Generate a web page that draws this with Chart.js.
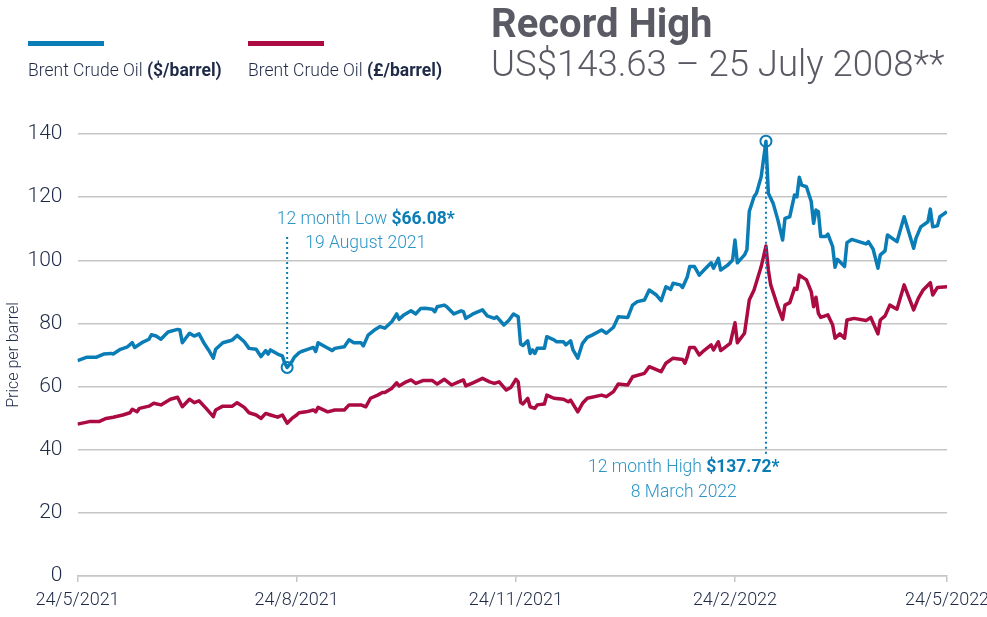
<!DOCTYPE html>
<html>
<head>
<meta charset="utf-8">
<title>Brent Crude Oil</title>
<script src="https://cdn.jsdelivr.net/npm/chart.js@4.4.0/dist/chart.umd.min.js"></script>
<style>
	body { margin: 0; background: #ffffff; }
	#wrap { position: relative; width: 987px; height: 617px; font-family: Roboto, 'Liberation Sans', sans-serif; }
	#oilChart { position: absolute; left: 0; top: 0; }
	.key { position: absolute; top: 41px; width: 76px; height: 5px; }
	.keyText { position: absolute; top: 60px; font-size: 17.5px; line-height: 20px; font-weight: 300; color: #1f2a47; white-space: nowrap; }
	.keyText b { font-weight: 700; }
	#title { position: absolute; left: 491px; top: 2px; font-size: 40px; line-height: 44px; font-weight: 700; color: #5a5a64; white-space: nowrap; }
	#subtitle { position: absolute; left: 491px; top: 43px; font-size: 36.5px; line-height: 42px; font-weight: 300; color: #5a5a64; white-space: nowrap; }
</style>
</head>
<body>
<div id="wrap">
	<canvas id="oilChart" width="987" height="617"></canvas>
	<div class="key" style="left:28px;background:#0a7db6"></div>
	<div class="keyText" style="left:28px">Brent Crude Oil <b>($/barrel)</b></div>
	<div class="key" style="left:248px;background:#ab0a43"></div>
	<div class="keyText" style="left:248px">Brent Crude Oil <b>(£/barrel)</b></div>
	<div id="title">Record High</div>
	<div id="subtitle">US$143.63 – 25 July 2008**</div>
</div>
<script>
// x axis: days since 24/5/2021
var tickDays = [0, 92, 184, 276, 365];
var tickLabels = ['24/5/2021', '24/8/2021', '24/11/2021', '24/2/2022', '24/5/2022'];

// Brent in US dollars
var usdDays = [0, 4, 8, 11, 14, 15, 18, 21, 23, 24, 27, 30, 31, 33, 35, 38, 42, 43, 44, 47,
	49, 51, 53, 55, 57, 58, 61, 64, 65, 67, 70, 72, 75, 77, 79, 80, 81, 84, 86, 87,
	88, 90, 91, 93, 94, 96, 99, 100, 101, 104, 107, 108, 112, 114, 116, 119, 120, 122, 125, 127,
	129, 132, 134, 135, 137, 140, 142, 144, 146, 149, 150, 151, 154, 155, 158, 161, 162, 163, 166, 170,
	172, 175, 176, 179, 181, 183, 185, 186, 187, 189, 190, 191, 192, 193, 196, 197, 200, 201, 204, 205,
	207, 208, 210, 212, 214, 216, 220, 222, 225, 227, 231, 233, 235, 238, 240, 243, 245, 247, 249, 250,
	253, 254, 256, 257, 259, 261, 263, 266, 267, 269, 270, 273, 275, 276, 277, 280, 281, 282, 284, 285,
	287, 289, 290, 292, 294, 296, 297, 299, 301, 302, 303, 304, 306, 308, 309, 310, 311, 312, 314, 315,
	317, 318, 319, 322, 323, 325, 331, 332, 334, 336, 337, 339, 340, 344, 347, 351, 352, 354, 357, 358,
	359, 361, 362, 365];
var usdPrices = [68.2, 69.3, 69.3, 70.3, 70.5, 70.3, 71.8, 72.6, 73.9, 72.4, 73.9, 75.0, 76.4, 76.0, 75.0, 77.3, 78.1, 77.9, 73.9, 76.9,
	76.0, 76.7, 73.9, 71.6, 69.0, 71.8, 73.9, 74.5, 74.8, 76.2, 74.2, 72.1, 71.8, 69.5, 71.4, 70.3, 71.6, 70.3, 69.7, 67.4,
	66.08, 67.9, 69.3, 70.7, 71.1, 71.6, 72.4, 71.1, 73.9, 72.6, 71.4, 72.1, 72.6, 74.8, 73.9, 73.9, 72.9, 76.3, 78.1, 79.0,
	78.5, 80.6, 83.0, 81.3, 82.7, 84.0, 83.0, 84.7, 84.8, 84.5, 83.7, 85.3, 85.8, 85.3, 83.0, 84.0, 83.7, 81.6, 83.0, 84.3,
	82.4, 81.6, 82.1, 79.5, 80.9, 83.0, 82.1, 73.5, 73.0, 74.5, 70.5, 71.6, 70.5, 72.1, 72.1, 75.8, 74.8, 74.2, 74.2, 73.2,
	74.5, 71.6, 69.0, 73.7, 75.6, 76.3, 77.9, 76.9, 78.8, 82.1, 81.9, 85.8, 86.9, 87.4, 90.6, 89.0, 87.2, 91.6, 90.8, 92.7,
	92.2, 91.4, 94.8, 98.0, 98.0, 95.3, 96.9, 99.2, 97.5, 100.6, 96.9, 98.5, 100.1, 106.4, 99.2, 101.7, 103.3, 115.5, 120.1, 121.2,
	126.5, 137.72, 121.2, 118.1, 112.8, 106.4, 113.3, 113.8, 120.7, 120.1, 126.3, 123.8, 123.3, 118.6, 111.7, 115.9, 115.4, 107.5, 107.5, 108.3,
	104.3, 97.8, 100.3, 98.0, 105.6, 106.6, 105.2, 105.9, 103.5, 97.5, 101.7, 103.0, 108.0, 105.9, 113.8, 103.8, 107.0, 110.6, 112.2, 116.2,
	110.6, 110.9, 113.8, 115.4];

// Brent in pounds sterling
var gbpDays = [0, 5, 9, 12, 15, 19, 22, 23, 25, 26, 30, 32, 35, 39, 42, 44, 47, 49, 51, 54,
	57, 58, 61, 65, 67, 70, 72, 75, 77, 79, 81, 84, 86, 88, 90, 92, 93, 96, 99, 100,
	101, 105, 108, 112, 114, 119, 121, 123, 126, 128, 129, 132, 134, 135, 138, 140, 142, 145, 149, 151,
	154, 157, 160, 162, 163, 166, 170, 173, 175, 177, 180, 182, 184, 185, 186, 187, 189, 190, 192, 193,
	196, 197, 200, 204, 206, 207, 210, 212, 214, 220, 222, 225, 227, 231, 233, 238, 240, 245, 247, 250,
	254, 255, 256, 257, 259, 261, 263, 266, 267, 269, 270, 274, 276, 277, 280, 282, 284, 287, 289, 290,
	291, 294, 296, 297, 299, 301, 302, 303, 306, 308, 309, 310, 311, 312, 315, 317, 318, 320, 322, 323,
	326, 331, 333, 336, 337, 339, 341, 344, 347, 351, 353, 355, 358, 359, 361, 365];
var gbpPrices = [48.1, 48.9, 48.9, 49.9, 50.3, 51.0, 51.7, 52.8, 52.0, 53.1, 53.8, 54.7, 54.2, 56.0, 56.6, 53.6, 56.0, 54.9, 55.5, 53.1,
	50.5, 52.6, 53.8, 53.8, 54.9, 53.4, 51.7, 51.0, 49.9, 51.5, 51.0, 50.3, 51.0, 48.4, 49.9, 51.0, 51.7, 52.0, 52.6, 52.0,
	53.4, 52.0, 52.6, 52.6, 54.2, 54.2, 53.6, 56.3, 57.3, 58.1, 58.1, 59.5, 61.2, 60.2, 61.5, 62.1, 61.0, 61.9, 61.9, 60.8,
	62.3, 60.5, 61.5, 62.1, 60.2, 61.2, 62.6, 61.5, 61.0, 61.5, 58.9, 59.8, 62.3, 61.5, 55.0, 54.5, 56.3, 53.6, 53.1, 54.2,
	54.5, 57.3, 56.3, 56.0, 55.2, 55.7, 52.0, 54.7, 56.3, 57.3, 56.8, 58.4, 60.8, 60.5, 63.1, 64.2, 66.3, 64.7, 67.4, 69.0,
	68.6, 67.4, 69.5, 72.4, 72.4, 70.0, 71.4, 73.2, 71.6, 74.2, 71.4, 73.7, 80.2, 73.9, 76.9, 87.4, 90.6, 98.0, 104.5, 97.0,
	92.2, 85.3, 81.3, 85.8, 86.6, 91.1, 90.8, 95.3, 93.8, 90.1, 85.3, 88.3, 83.2, 81.9, 82.7, 79.5, 75.3, 76.7, 75.3, 81.1,
	81.6, 80.9, 81.9, 76.7, 81.1, 82.4, 85.8, 84.5, 92.2, 84.3, 88.0, 90.6, 92.9, 89.0, 91.4, 91.6];

// Colors
var colors = {
	usd: '#0a7db6',
	gbp: '#ab0a43',
	note: '#2b95c8',
	noteBold: '#0a7db6',
	text: '#1f2a47',
	grid: '#c6c6c6'
};
var fontFamily = "Roboto, 'Liberation Sans', sans-serif";

// 12 month low / high call-outs (anchored in data units)
var notes = [
	{ day: 88, value: 66.08, lineFrom: 107.4, lineTo: null, textDay: 121, textValue: 113, dateValue: 105.4,
		label: '12 month Low ', bold: '$66.08*', date: '19 August 2021' },
	{ day: 289, value: 137.72, lineFrom: null, lineTo: 38.3, textDay: 254.5, textValue: 34.4, dateValue: 26.5,
		label: '12 month High ', bold: '$137.72*', date: '8 March 2022' }
];

function toPoints(days, values) {
	return days.map(function(d, i) { return { x: d, y: values[i] }; });
}

function drawMixed(ctx, cx, cy, parts) {
	var total = 0;
	parts.forEach(function(p) {
		ctx.font = p.weight + ' 17.5px ' + fontFamily;
		p.w = ctx.measureText(p.text).width;
		total += p.w;
	});
	var x = cx - total / 2;
	parts.forEach(function(p) {
		ctx.font = p.weight + ' 17.5px ' + fontFamily;
		ctx.fillStyle = p.color;
		ctx.fillText(p.text, x, cy);
		x += p.w;
	});
}

var notesPlugin = {
	id: 'notes',
	afterDatasetsDraw: function(chart) {
		var ctx = chart.ctx;
		var xs = chart.scales.x, ys = chart.scales.y;
		var r = 5.5;

		notes.forEach(function(n) {
			var px = xs.getPixelForValue(n.day);
			var py = ys.getPixelForValue(n.value);
			ctx.save();

			// dotted leader line
			ctx.strokeStyle = colors.usd;
			ctx.lineWidth = 2;
			ctx.setLineDash([2, 3]);
			ctx.beginPath();
			if (n.lineFrom !== null) {
				ctx.moveTo(px, ys.getPixelForValue(n.lineFrom));
				ctx.lineTo(px, py - r);
			} else {
				ctx.moveTo(px, py + r);
				ctx.lineTo(px, ys.getPixelForValue(n.lineTo));
			}
			ctx.stroke();

			// marker ring
			ctx.setLineDash([]);
			ctx.beginPath();
			ctx.arc(px, py, r, 0, Math.PI * 2);
			ctx.stroke();

			// text
			ctx.textAlign = 'left';
			ctx.textBaseline = 'middle';
			var tx = xs.getPixelForValue(n.textDay);
			drawMixed(ctx, tx, ys.getPixelForValue(n.textValue), [
				{ text: n.label, weight: '300', color: colors.note },
				{ text: n.bold, weight: '700', color: colors.noteBold }
			]);
			drawMixed(ctx, tx, ys.getPixelForValue(n.dateValue), [
				{ text: n.date, weight: '300', color: colors.note }
			]);
			ctx.restore();
		});
	}
};

var ctx = document.getElementById('oilChart').getContext('2d');
var oilChart = new Chart(ctx, {
	type: 'line',
	data: {
		datasets: [
			{
				label: 'Brent Crude Oil ($/barrel)',
				data: toPoints(usdDays, usdPrices),
				borderColor: colors.usd,
				borderWidth: 3.5,
				borderJoinStyle: 'round',
				pointRadius: 0,
				tension: 0
			},
			{
				label: 'Brent Crude Oil (£/barrel)',
				data: toPoints(gbpDays, gbpPrices),
				borderColor: colors.gbp,
				borderWidth: 3.5,
				borderJoinStyle: 'round',
				pointRadius: 0,
				tension: 0
			}
		]
	},
	options: {
		responsive: false,
		animation: false,
		layout: { padding: { top: 134, right: 40, bottom: 0, left: 0 } },
		plugins: {
			legend: { display: false },
			tooltip: { enabled: false }
		},
		scales: {
			x: {
				type: 'linear',
				min: 0,
				max: 365,
				afterBuildTicks: function(scale) {
					scale.ticks = tickDays.map(function(v) { return { value: v }; });
				},
				afterFit: function(scale) {
					scale.height = 41;
					scale.paddingLeft = 0;
					scale.paddingRight = 0;
				},
				grid: { drawOnChartArea: false, drawTicks: true, tickLength: 6, color: colors.grid, lineWidth: 1.5 },
				border: { color: colors.grid, width: 1.5 },
				ticks: {
					autoSkip: false,
					maxRotation: 0,
					padding: 8,
					color: colors.text,
					font: { family: fontFamily, size: 18, weight: '300' },
					callback: function(value, index) { return tickLabels[index]; }
				}
			},
			y: {
				min: 0,
				max: 140,
				afterFit: function(scale) { scale.width = 77.5; },
				grid: { color: colors.grid, lineWidth: 1.5, drawTicks: false },
				border: { display: false },
				ticks: {
					stepSize: 20,
					padding: 15,
					color: colors.text,
					font: { family: fontFamily, size: 21, weight: '300' }
				},
				title: {
					display: true,
					text: 'Price per barrel',
					color: colors.text,
					padding: { top: 4, bottom: 0 },
					font: { family: fontFamily, size: 16, weight: '300' }
				}
			}
		}
	},
	plugins: [notesPlugin]
});
</script>
</body>
</html>
